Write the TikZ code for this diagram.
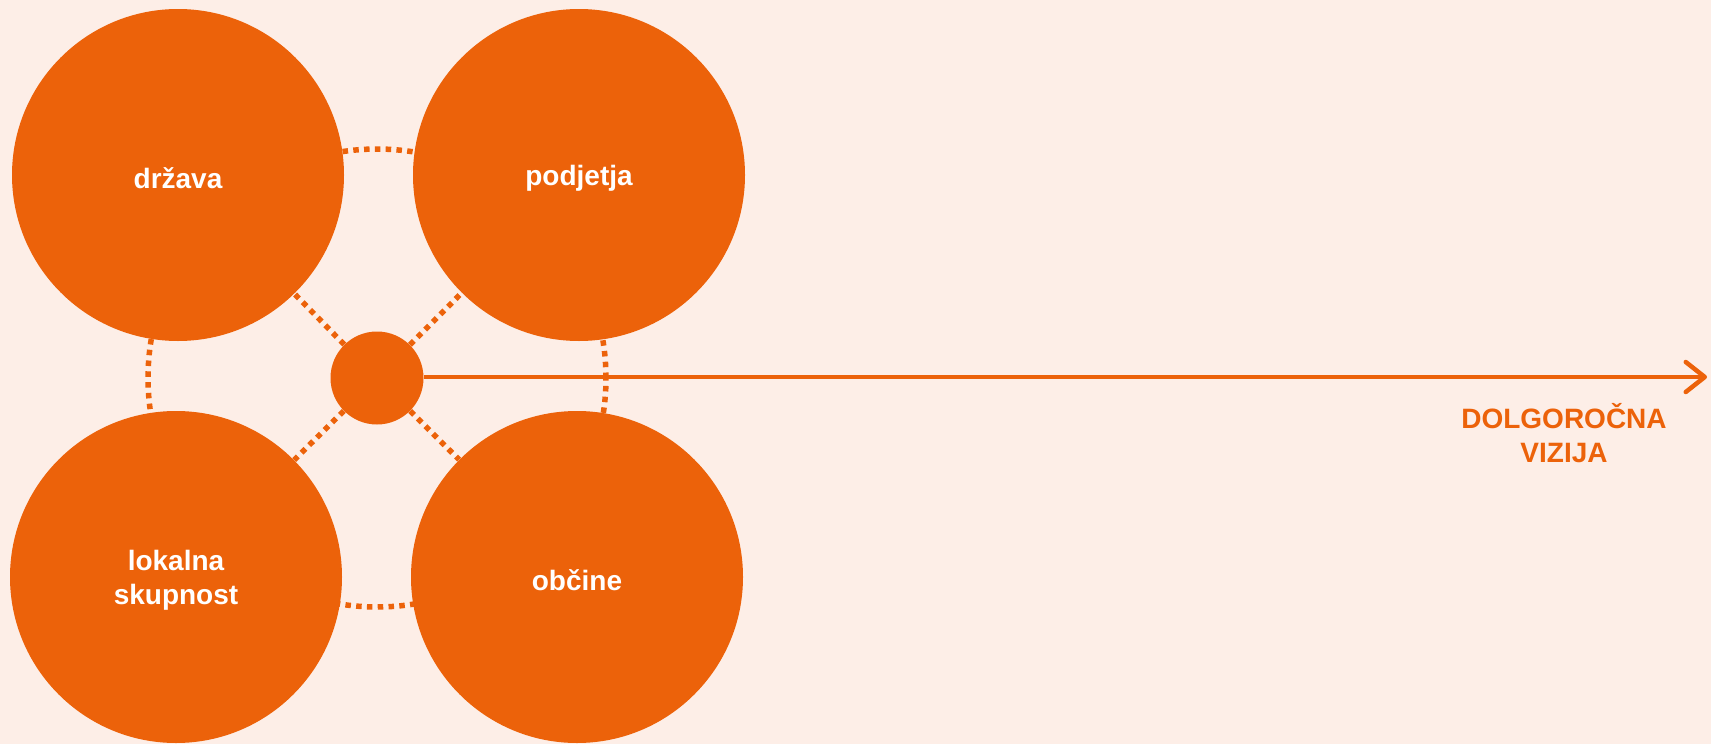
\documentclass[tikz,border=0pt]{standalone}
\usepackage{fontspec}
\setmainfont{Liberation Sans}
\usetikzlibrary{arrows.meta}
\definecolor{peach}{HTML}{FDEEE7}
\definecolor{accent}{HTML}{EC620A}

\begin{document}
\begin{tikzpicture}[
  x=1pt, y=-1pt,
  every node/.style={font=\fontsize{28}{34}\selectfont\bfseries},
  actor/.style={circle, fill=accent, minimum size=332pt, inner sep=0pt},
  caption/.style={text=white, align=center, yshift=-3.5pt},
  hub/.style={circle, fill=accent, minimum size=93pt, inner sep=0pt},
  dots/.style={draw=accent, line width=5.5pt, dash pattern=on 5.5pt off 5.3pt},
  vision/.style={draw=accent, line width=4.5pt, -{Straight Barb[round, length=19pt, width=30pt, line width=4.5pt]}}
]
\fill[peach] (0,0) rectangle (1711,744);
\useasboundingbox (0,0) rectangle (1711,744);

% dotted ring behind the circles
\coordinate (centre) at (377,378);
\draw[dots] (centre) circle[radius=229pt];

\node[actor, label={[caption]center:država}]   (drzava)   at (178,175) {};
\node[actor, label={[caption]center:podjetja}] (podjetja) at (579,175) {};
\node[actor, label={[caption]center:{lokalna\\skupnost}}] (lokalna) at (176,577) {};
\node[actor, label={[caption]center:občine}]   (obcine)   at (577,577) {};
\node[hub]   (hub)      at (centre) {};

\foreach \n in {drzava,podjetja,lokalna,obcine}
  \draw[dots] (hub) -- (\n);

\coordinate (horizon) at (1707,377);
\draw[vision] (hub.east |- horizon) -- (horizon);
\node[text=accent, align=center] (label) at (1564,433) {DOLGOROČNA\\VIZIJA};
\end{tikzpicture}
\end{document}
